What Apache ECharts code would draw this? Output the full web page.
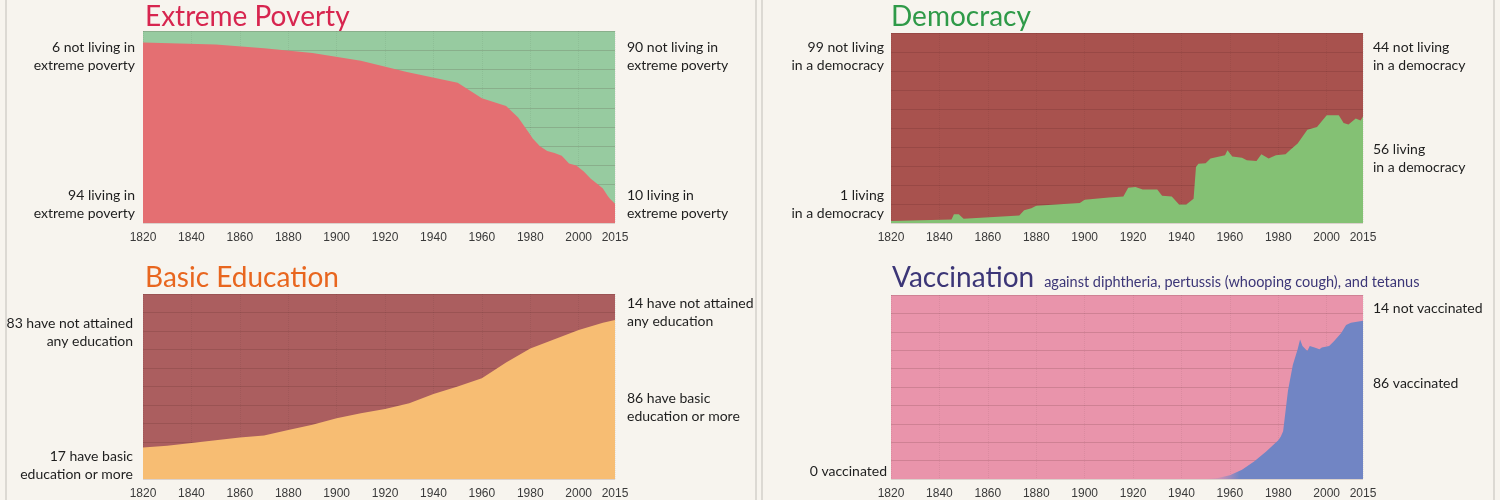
<!DOCTYPE html>
<html>
<head>
<meta charset="utf-8">
<script src="https://cdn.jsdelivr.net/npm/echarts@6/dist/echarts.min.js"></script>
<style>
html,body{margin:0;padding:0;background:#f7f4ee;}
#chart{width:1500px;height:500px;}
</style>
</head>
<body>
<div id="chart"></div>
<script>
// share of world population, in percent (bottom layer); the rest up to 100 is the top layer
const povertyYears = [1820,1850,1870,1890,1910,1929,1950,1960,1970,1975,1980,1981,1984,1987,1990,1993,1996,1999,2002,2005,2008,2010,2011,2012,2013,2015]
const povertyLiving = [94,93,91,88.5,84.5,78.6,73,65,61,55,46,44,40,37.5,36.5,35,31,30,27,23,20,18,16,14,12.5,10]

const democracyYears = [1820,1845,1846,1848,1850,1873,1875,1878,1880,1898,1900,1910,1916,1918,1921,1924,1930,1932,1936,1939,1942,1945,1946,1947,1950,1952,1958,1959,1961,1965,1967,1971,1973,1976,1979,1983,1985,1988,1992,1996,2000,2005,2007,2009,2012,2014,2015]
const democracyLiving = [1,1.8,4.6,4.6,2.3,4,6.7,7.7,9.1,10.5,12.3,13.4,14,18.6,19,17.6,17.6,14.4,14,9.8,9.8,12.8,29.5,31.2,31.4,33.9,35.6,38.3,35,34.4,33,32.6,36.2,33.9,35.6,36.2,38.6,41.8,49.1,50.5,56.7,56.7,52.6,51.9,55,54,56]

const educationYears = [1820,1830,1840,1850,1860,1870,1880,1890,1900,1910,1920,1930,1940,1950,1960,1970,1980,1990,2000,2010,2015]
const educationBasic = [17,18,19.5,21,22.5,23.5,26.5,29.3,32.8,35.5,37.8,41,46,50,54.5,63,70.5,75.5,80.5,84.5,86]

const vaccYears = [1820,1950,1955,1960,1965,1970,1975,1980,1981,1982,1984,1986,1988,1989,1990,1992,1993,1995,1997,1998,2001,2003,2006,2008,2010,2015]
const vaccinated = [0,0,0.5,2,5,9.5,15,21,23,26,48,62,70.5,75.8,72.3,69.6,72.3,71.4,70.5,71.4,72.3,74.9,79.3,83.7,84.9,86]

const tickYears = [1820,1840,1860,1880,1900,1920,1940,1960,1980,2000,2015]

const xMin = 1820, xMax = 2015

const chart = echarts.init(document.getElementById('chart'))

// top layer colour is the grid background, bottom layer is the area series
const topColors = ['#97cba0','#a8524e','#ab5e5f','#e994ab']
const grids = [
  {left:143, top:31, width:472, height:192},
  {left:891, top:33, width:472, height:190},
  {left:143, top:294, width:472, height:190},
  {left:891, top:295, width:472, height:189},
].map((g,i)=>({...g, show:true, borderWidth:0, backgroundColor:topColors[i]}))

const xAxes = grids.map((g,i)=>({
  type:'value', gridIndex:i, min:xMin, max:xMax, interval:20, z:3,
  axisLine:{show:false}, axisTick:{show:false},
  axisLabel:{
    color:'#3a3a3a', fontSize:12, fontFamily:'Liberation Sans', margin:9,
    showMinLabel:true, showMaxLabel:true,
    formatter:(v)=> tickYears.includes(v) ? String(v) : ''
  },
  splitLine:{show:true, lineStyle:{color:'rgba(0,0,0,0.06)', type:'dotted'}}
}))
const yAxes = grids.map((g,i)=>({
  type:'value', gridIndex:i, min:0, max:100, interval:10, z:3,
  axisLine:{show:false}, axisTick:{show:false}, axisLabel:{show:false},
  splitLine:{show:true, lineStyle:{color:'rgba(60,20,20,0.15)', width:1}}
}))

const pair = (ys, vs)=> ys.map((y,i)=>[y, vs[i]])

const area = (name, idx, data, color)=>({
  name, type:'line', xAxisIndex:idx, yAxisIndex:idx, data,
  showSymbol:false, symbol:'none', lineStyle:{width:0}, silent:true,
  areaStyle:{color, opacity:1}
})

const fr = (y)=> (y - xMin)/(xMax - xMin)
const vaccColor = {
  type:'linear', x:0, y:0, x2:1, y2:0,
  colorStops:[
    {offset:0, color:'#e994ab'},
    {offset:fr(1950), color:'#e994ab'},
    {offset:fr(1956), color:'#c991b5'},
    {offset:fr(1964), color:'#7185c4'},
    {offset:1, color:'#7185c4'}
  ]
}

const series = [
  area('living in extreme poverty',0,pair(povertyYears,povertyLiving),'#e46f72'),
  area('living in a democracy',1,pair(democracyYears,democracyLiving),'#84c174'),
  area('basic education or more',2,pair(educationYears,educationBasic),'#f7bd73'),
  area('vaccinated',3,pair(vaccYears,vaccinated),vaccColor),
]

const last = (a)=> a[a.length-1]
const r = (v)=> Math.round(v)
const sideFont = '14px Lato'
const txt = (x, y, text, align)=>({
  type:'text', x, y,
  style:{text, font:sideFont, fill:'#1e1e1e', align, verticalAlign:'top', lineHeight:18}
})

const graphic = [
  {type:'line', shape:{x1:6,y1:0,x2:6,y2:500}, style:{stroke:'#dcd9d3', lineWidth:2}},
  {type:'line', shape:{x1:756,y1:0,x2:756,y2:500}, style:{stroke:'#dcd9d3', lineWidth:2}},
  {type:'line', shape:{x1:762,y1:0,x2:762,y2:500}, style:{stroke:'#dcd9d3', lineWidth:2}},
  {type:'line', shape:{x1:1494,y1:0,x2:1494,y2:500}, style:{stroke:'#dcd9d3', lineWidth:2}},

  txt(135, 38, r(100-povertyLiving[0])+' not living in\nextreme poverty', 'right'),
  txt(135, 186, r(povertyLiving[0])+' living in\nextreme poverty', 'right'),
  txt(627, 38, r(100-last(povertyLiving))+' not living in\nextreme poverty', 'left'),
  txt(627, 186, r(last(povertyLiving))+' living in\nextreme poverty', 'left'),

  txt(884, 38, r(100-democracyLiving[0])+' not living\nin a democracy', 'right'),
  txt(884, 186, r(democracyLiving[0])+' living\nin a democracy', 'right'),
  txt(1373, 38, r(100-last(democracyLiving))+' not living\nin a democracy', 'left'),
  txt(1373, 140, r(last(democracyLiving))+' living\nin a democracy', 'left'),

  txt(133, 314, r(100-educationBasic[0])+' have not attained\nany education', 'right'),
  txt(133, 447, r(educationBasic[0])+' have basic\neducation or more', 'right'),
  txt(627, 294, r(100-last(educationBasic))+' have not attained\nany education', 'left'),
  txt(627, 389, r(last(educationBasic))+' have basic\neducation or more', 'left'),

  txt(1373, 299, r(100-last(vaccinated))+' not vaccinated', 'left'),
  txt(1373, 374, r(last(vaccinated))+' vaccinated', 'left'),
  txt(887, 462, r(vaccinated[0])+' vaccinated', 'right'),
]

const titleFont = 'Lato'
const tStyle = (color)=>({color, fontSize:28, fontWeight:'normal', fontFamily:titleFont})
const title = [
  {text:'Extreme Poverty', left:140, top:-2, textStyle:tStyle('#d7254f')},
  {text:'Democracy', left:886, top:-2, textStyle:tStyle('#2f9a48')},
  {text:'Basic Education', left:140, top:259, textStyle:tStyle('#e8661f')},
  {text:'{a|Vaccination}  {b|against diphtheria, pertussis (whooping cough), and tetanus}', left:887, top:259,
   textStyle:{rich:{
     a:{color:'#3c3677', fontSize:28, fontWeight:'normal', fontFamily:titleFont},
     b:{color:'#3c3677', fontSize:14.5, fontWeight:'normal', fontFamily:titleFont, padding:[8,0,0,0]}
   }}},
]

chart.setOption({
  backgroundColor:'#f7f4ee',
  animation:false,
  title,
  grid:grids,
  xAxis:xAxes,
  yAxis:yAxes,
  series,
  graphic
})
</script>
</body>
</html>
